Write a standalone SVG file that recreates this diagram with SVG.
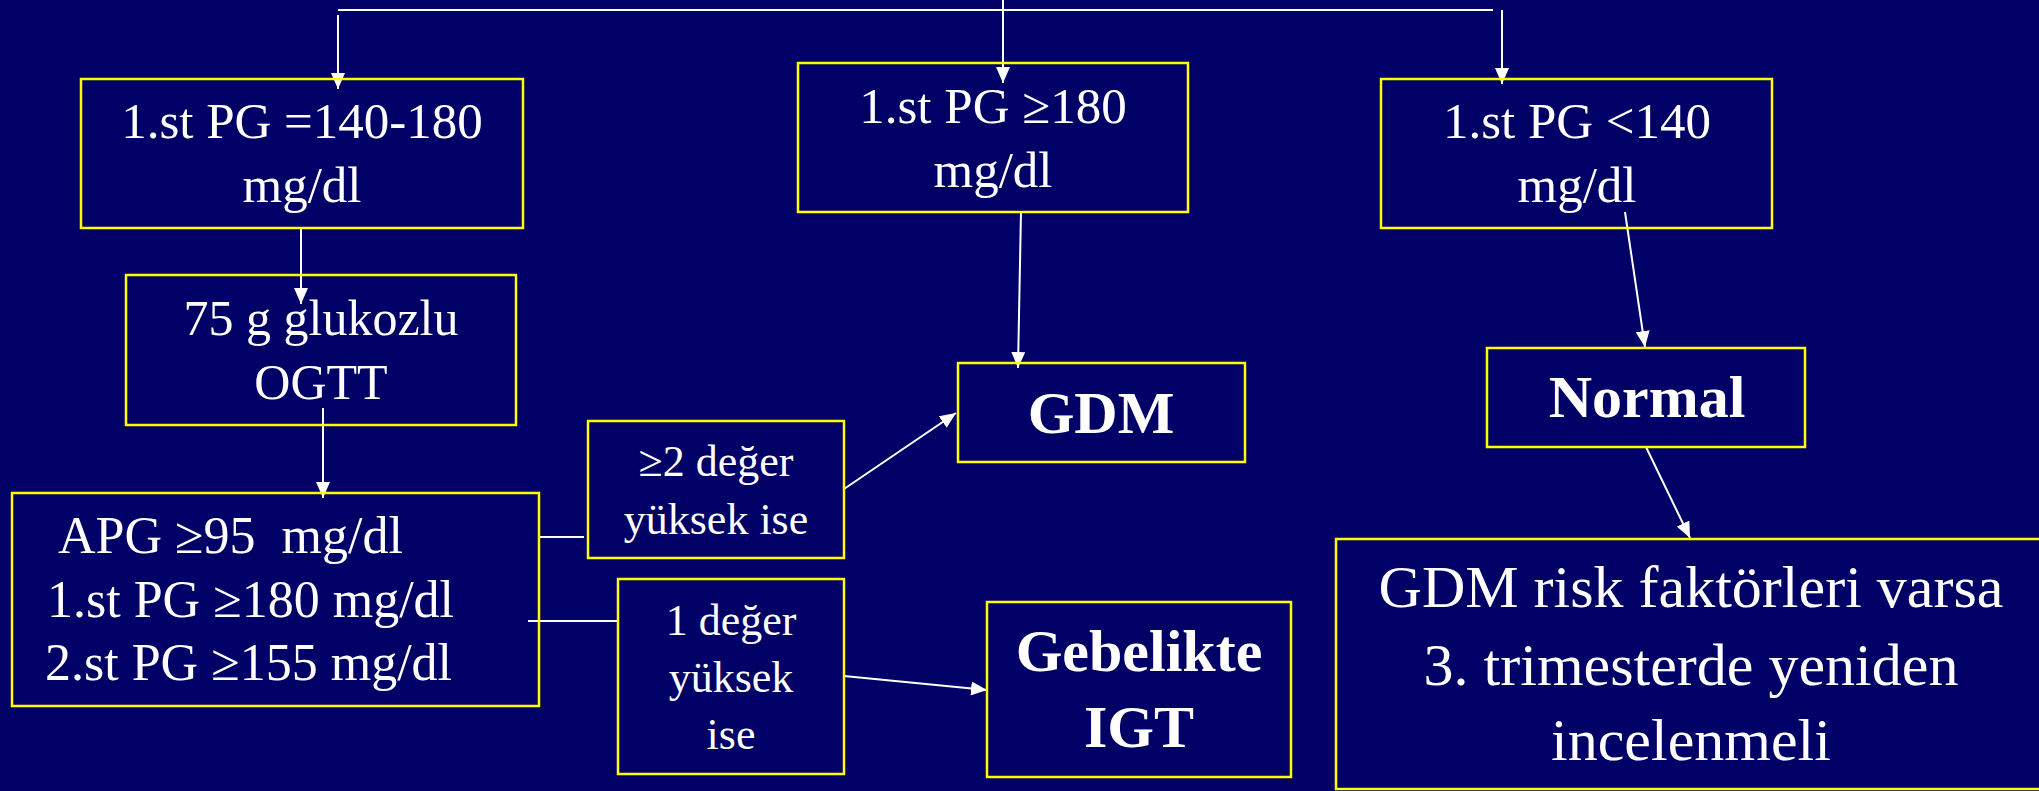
<svg xmlns="http://www.w3.org/2000/svg" width="2039" height="791" viewBox="0 0 2039 791">
<defs>
<marker id="ah" markerUnits="userSpaceOnUse" markerWidth="16" markerHeight="14" refX="16" refY="7" orient="auto">
<path d="M0,0 L16,7 L0,14 z" fill="#ffffff"/>
</marker>
<style>
.box{fill:none;stroke:#ffff00;stroke-width:2.5}
.t{font-family:"Liberation Serif","Times New Roman",serif;fill:#ffffff;text-anchor:middle}
.l{font-family:"Liberation Serif","Times New Roman",serif;fill:#ffffff;white-space:pre}
.b{font-weight:bold}
.c{stroke:#ffffff;stroke-width:2;fill:none}
.a{marker-end:url(#ah)}
</style>
</defs>
<rect width="2039" height="791" fill="#000066"/>
<g id="connectors">
<line class="c" x1="338" y1="10" x2="1493" y2="10"/>
<line class="c a" x1="338" y1="15" x2="338" y2="89"/>
<line class="c a" x1="1003" y1="0" x2="1003" y2="83"/>
<line class="c a" x1="1502" y1="10" x2="1502" y2="84"/>
<line class="c a" x1="301" y1="228" x2="301" y2="304"/>
<line class="c a" x1="323" y1="408" x2="323" y2="498"/>
<line class="c a" x1="1021" y1="211" x2="1018" y2="368"/>
<line class="c a" x1="1625" y1="212" x2="1645" y2="347"/>
<line class="c a" x1="1646" y1="447" x2="1690" y2="538"/>
<line class="c" x1="540" y1="537" x2="584" y2="537"/>
<line class="c" x1="528" y1="621" x2="618" y2="621"/>
<line class="c a" x1="844" y1="489" x2="956" y2="413"/>
<line class="c a" x1="844" y1="676" x2="987" y2="690"/>
</g>
<g id="n1">
<rect class="box" x="81" y="79" width="442" height="149"/>
<text class="t" x="302" y="138" font-size="51">1.st PG =140-180</text>
<text class="t" x="302" y="202" font-size="51">mg/dl</text>
</g>
<g id="n2">
<rect class="box" x="126" y="275" width="390" height="150"/>
<text class="t" x="321" y="335" font-size="50">75 g glukozlu</text>
<text class="t" x="321" y="399" font-size="50">OGTT</text>
</g>
<g id="n3">
<rect class="box" x="12" y="493" width="527" height="213"/>
<text class="l" x="58" y="553" font-size="52">APG ≥95  mg/dl</text>
<text class="l" x="47" y="617" font-size="52">1.st PG ≥180 mg/dl</text>
<text class="l" x="45" y="680" font-size="52">2.st PG ≥155 mg/dl</text>
</g>
<g id="n4">
<rect class="box" x="588" y="421" width="256" height="137"/>
<text class="t" x="716" y="476" font-size="44">≥2 değer</text>
<text class="t" x="716" y="534" font-size="44">yüksek ise</text>
</g>
<g id="n5">
<rect class="box" x="618" y="579" width="226" height="195"/>
<text class="t" x="731" y="635" font-size="44">1 değer</text>
<text class="t" x="731" y="692" font-size="44">yüksek</text>
<text class="t" x="731" y="749" font-size="44">ise</text>
</g>
<g id="n6">
<rect class="box" x="798" y="63" width="390" height="149"/>
<text class="t" x="993" y="123" font-size="51">1.st PG ≥180</text>
<text class="t" x="993" y="187" font-size="51">mg/dl</text>
</g>
<g id="n7">
<rect class="box" x="958" y="363" width="287" height="99"/>
<text class="t b" x="1101" y="433" font-size="60">GDM</text>
</g>
<g id="n8">
<rect class="box" x="987" y="602" width="304" height="175"/>
<text class="t b" x="1139" y="671" font-size="60">Gebelikte</text>
<text class="t b" x="1139" y="747" font-size="60">IGT</text>
</g>
<g id="n9">
<rect class="box" x="1381" y="79" width="391" height="149"/>
<text class="t" x="1577" y="138" font-size="51">1.st PG &lt;140</text>
<text class="t" x="1577" y="202" font-size="51">mg/dl</text>
</g>
<g id="n10">
<rect class="box" x="1487" y="348" width="318" height="99"/>
<text class="t b" x="1647" y="417" font-size="60">Normal</text>
</g>
<g id="n11">
<rect class="box" x="1336" y="539" width="720" height="250"/>
<text class="t" x="1691" y="607" font-size="60">GDM risk faktörleri varsa</text>
<text class="t" x="1691" y="685" font-size="60">3. trimesterde yeniden</text>
<text class="t" x="1691" y="760" font-size="60">incelenmeli</text>
</g>
</svg>
